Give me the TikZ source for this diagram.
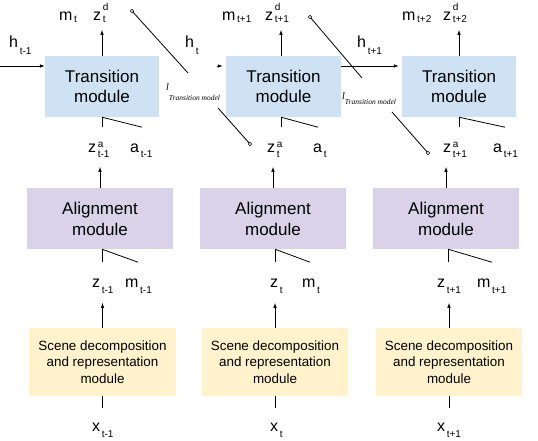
\documentclass[tikz,border=0pt]{standalone}
\usepackage{fontspec}
\setmainfont{Liberation Sans}
\newfontfamily\serifit{Liberation Serif}
\usetikzlibrary{arrows.meta,calc}
\definecolor{tblue}{HTML}{CFE2F3}
\definecolor{apurple}{HTML}{D9D2E9}
\definecolor{syellow}{HTML}{FFF2CC}
\newcommand{\fsz}[1]{\fontsize{#1}{#1}\selectfont}
\newcommand{\vlab}[5]{#1\rlap{\raisebox{#4}{\fsz{10}\,#2}}\raisebox{-#5}{\fsz{10}\,#3}}
\begin{document}
\begin{tikzpicture}[x=1pt,y=-1pt,
  box/.style={draw=none,inner sep=0pt,align=center},
  tbox/.style={box,fill=tblue,minimum height=61pt,font=\fontsize{17}{20}\selectfont},
  abox/.style={box,fill=apurple,minimum width=146pt,minimum height=61pt,font=\fontsize{17}{21}\selectfont},
  sbox/.style={box,fill=syellow,minimum width=146pt,minimum height=68pt,font=\fontsize{13.4}{16.5}\selectfont},
  lab/.style={inner sep=0pt,anchor=base west,font=\fsz{16}},
  llab/.style={inner sep=0pt,anchor=base west,font=\serifit\itshape\fsz{10}},
  arr/.style={line width=0.8pt,-{Latex[length=5pt,width=3.6pt]}},
  ln/.style={line width=0.8pt},
  cir/.style={line width=0.6pt,fill=white}]
\useasboundingbox (0,0) rectangle (538,440);
% boxes
\node[tbox,minimum width=114pt] (T1) at (102,86.5) {Transition\\module};
\node[tbox,minimum width=115pt] (T2) at (283.5,86.5) {Transition\\module};
\node[tbox,minimum width=114pt] (T3) at (459,86.5) {Transition\\module};
\node[abox] (A1) at (100,218.5) {Alignment\\module};
\node[abox] (A2) at (273,218.5) {Alignment\\module};
\node[abox] (A3) at (446,218.5) {Alignment\\module};
\node[sbox,minimum width=147pt] (S1) at (102.5,362) {Scene decomposition\\and representation\\module};
\node[sbox] (S2) at (275,362) {Scene decomposition\\and representation\\module};
\node[sbox] (S3) at (449,362) {Scene decomposition\\and representation\\module};
% top labels
\node[lab] (m1) at (59,20) {\vlab{m}{}{t}{0pt}{2pt}};
\node[lab] (zd1) at (93,20) {\vlab{z}{d}{t}{10pt}{2pt}};
\node[lab] (m2) at (222,20) {\vlab{m}{}{t+1}{0pt}{2pt}};
\node[lab] (zd2) at (265,20) {\vlab{z}{d}{t+1}{10pt}{2pt}};
\node[lab] (m3) at (402,20) {\vlab{m}{}{t+2}{0pt}{2pt}};
\node[lab] (zd3) at (443,20) {\vlab{z}{d}{t+2}{10pt}{2pt}};
% h labels
\node[lab] (h0) at (9,47) {\vlab{h}{}{t-1}{0pt}{7pt}};
\node[lab] (h1) at (185,47) {\vlab{h}{}{t}{0pt}{7pt}};
\node[lab] (h2) at (357,47) {\vlab{h}{}{t+1}{0pt}{7pt}};
% row 2
\node[lab] (za1) at (88,152) {\vlab{z}{a}{t-1}{5pt}{5pt}};
\node[lab] (a1) at (130,152) {\vlab{a}{}{t-1}{0pt}{5pt}};
\node[lab] (za2) at (267,152) {\vlab{z}{a}{t}{5pt}{5pt}};
\node[lab] (a2) at (313,152) {\vlab{a}{}{t}{0pt}{5pt}};
\node[lab] (za3) at (443,152) {\vlab{z}{a}{t+1}{5pt}{5pt}};
\node[lab] (a3) at (493,152) {\vlab{a}{}{t+1}{0pt}{5pt}};
% row 3
\node[lab] (z1) at (92,287) {\vlab{z}{}{t-1}{0pt}{6pt}};
\node[lab] (mm1) at (125,287) {\vlab{m}{}{t-1}{0pt}{6pt}};
\node[lab] (z2) at (270,287) {\vlab{z}{}{t}{0pt}{6pt}};
\node[lab] (mm2) at (302,287) {\vlab{m}{}{t}{0pt}{6pt}};
\node[lab] (z3) at (437,287) {\vlab{z}{}{t+1}{0pt}{6pt}};
\node[lab] (mm3) at (477,287) {\vlab{m}{}{t+1}{0pt}{6pt}};
% row 4
\node[lab] (x1) at (92,431) {\vlab{x}{}{t-1}{0pt}{6pt}};
\node[lab] (x2) at (270,431) {\vlab{x}{}{t}{0pt}{6pt}};
\node[lab] (x3) at (437,431) {\vlab{x}{}{t+1}{0pt}{6pt}};
% loss labels
\node[llab] (L1) at (166,90) {l\raisebox{-10pt}{\fsz{7.5}Transition model}};
\node[llab] (L2) at (342,99) {l\raisebox{-5pt}{\fsz{7.5}Transition model}};
% h arrows
\coordinate (hin) at (0,66);
\draw[arr] (hin) -- (T1.west |- hin);
\draw[arr,shorten >=3pt] ($(T2.west |- hin)+(-9,0)$) -- (T2.west |- hin);
\draw[arr,shorten >=3pt] (T2.east |- hin) -- (T3.west |- hin);
% transition top arrows
\draw[arr] (T1.north) -- ++(0,-26);
\draw[arr] ($(T2.north)+(-2.5,0)$) -- ++(0,-26);
\draw[arr] (T3.north) -- ++(0,-26);
% transition bottom
\draw[ln] (T1.south) -- ++(0,10);
\draw[ln] (T1.south) -- ++(40,10);
\draw[ln] ($(T2.south)+(-2.5,0)$) -- ++(0,10);
\draw[ln] ($(T2.south)+(-2.5,0)$) -- ++(37,10);
\draw[ln] (T3.south) -- ++(0,10);
\draw[ln] (T3.south) -- ++(46,10);
% alignment top
\draw[arr] (A1.north) -- ++(0,-21);
\draw[arr] (A2.north) -- ++(0,-21);
\draw[arr] (A3.north) -- ++(0,-21);
% alignment bottom
\draw[ln] ($(A1.south)+(2,0)$) -- ++(0,13);
\draw[ln] ($(A1.south)+(2,0)$) -- ++(36,13);
\draw[ln] ($(A2.south)+(2,0)$) -- ++(0,13);
\draw[ln] ($(A2.south)+(2,0)$) -- ++(35,13);
\draw[ln] ($(A3.south)+(2,0)$) -- ++(0,13);
\draw[ln] ($(A3.south)+(2,0)$) -- ++(44,13);
% scene top and bottom
\draw[arr] (S1.north) -- ++(0,-25);
\draw[arr] (S2.north) -- ++(0,-25);
\draw[arr] (S3.north) -- ++(0,-25);
\draw[ln] (S1.south) -- ++(0,12);
\draw[ln] (S2.south) -- ++(0,12);
\draw[ln] (S3.south) -- ++(0,12);
% loss diagonals
\coordinate (c1a) at (132,11);
\coordinate (c1b) at (188,73);
\coordinate (c1c) at (218,108);
\coordinate (c1d) at (250,144);
\coordinate (c2a) at (310,17);
\coordinate (c2b) at (362,78);
\coordinate (c2c) at (392,112);
\coordinate (c2d) at (428,153);
\draw[ln] (c1a) -- (c1b);
\draw[ln] (c1c) -- (c1d);
\draw[ln] (c2a) -- (c2b);
\draw[ln] (c2c) -- (c2d);
\draw[cir] (c1a) circle (1.7);
\draw[cir] (c1d) circle (1.7);
\draw[cir] (c2a) circle (1.7);
\draw[cir] (c2d) circle (1.7);
\end{tikzpicture}
\end{document}
